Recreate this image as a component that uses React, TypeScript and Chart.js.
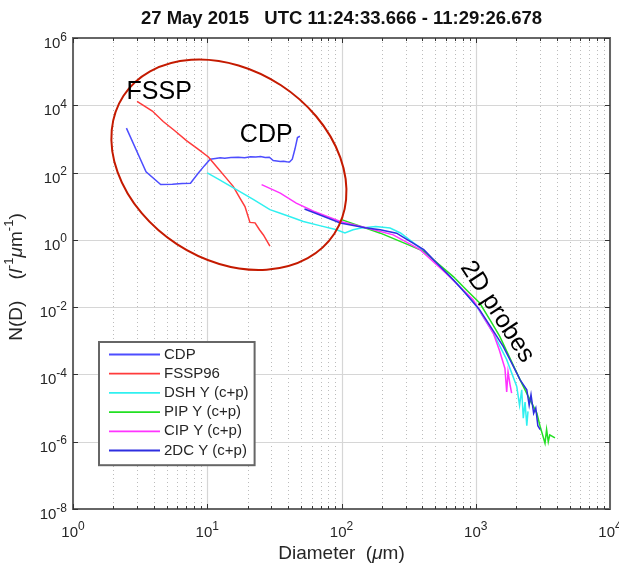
import React, { useEffect, useRef } from 'react';
import { Chart, registerables } from 'chart.js';

Chart.register(...registerables);

const FONT = '"Liberation Sans", Arial, Helvetica, sans-serif';

const titleText = '27 May 2015   UTC 11:24:33.666 - 11:29:26.678';

const xTickValues = [1, 10, 100, 1000, 10000];
const xTickExps = ['0', '1', '2', '3', '4'];
const yTickValues = [1e-8, 1e-6, 1e-4, 1e-2, 1, 1e2, 1e4, 1e6];
const yTickExps = ['-8', '-6', '-4', '-2', '0', '2', '4', '6'];

const seriesNames = ['CDP', 'FSSP96', 'DSH Y (c+p)', 'PIP Y (c+p)', 'CIP Y (c+p)', '2DC Y (c+p)'];
const seriesColors = ['#4d4dff', '#ff3b3b', '#30f0f0', '#22e022', '#ff33ff', '#2e2ee0'];

const cdpD = [2.5, 3.5, 4.5, 5.5, 6.5, 7.5, 8.5, 9.5, 10.5, 11.5, 12.5, 13.5, 15, 17, 19, 21, 23, 25, 27, 29, 31, 33, 35, 37, 39, 41, 43, 45, 47, 49];
const cdpN = [2100, 105, 44, 45, 47, 48, 92, 158, 250, 262, 275, 268, 282, 285, 275, 295, 288, 300, 282, 286, 228, 222, 214, 218, 210, 205, 250, 500, 1100, 1200];

const fsspD = [3.0, 3.9, 4.7, 5.7, 7.0, 8.4, 10.2, 12.0, 13.7, 15.6, 17.3, 19.1, 20.8, 22.7, 24.5, 26.2, 29.3];
const fsspN = [13000, 6760, 3300, 1780, 890, 525, 290, 135, 72, 39, 19, 9.8, 3.3, 3.2, 2.0, 1.4, 0.65];

const dshD = [10, 12, 16.5, 22, 29.3, 35, 42, 52, 70, 92, 106, 122, 140, 180, 230, 275, 385, 540, 760, 1015, 1350, 1700, 2020, 2120, 2200, 2260, 2330, 2400, 2450];
const dshN = [98, 65, 31, 16, 7.9, 6.2, 4.8, 3.5, 2.6, 2.0, 1.6, 2.0, 2.24, 2.5, 2.24, 1.6, 0.575, 0.162, 0.0417, 0.0105, 0.0017, 2.75e-4, 4.4e-5, 1.2e-5, 3.5e-5, 5e-6, 1.5e-5, 3e-6, 8e-6];

const pipD = [100, 195, 300, 410, 500, 680, 850, 1070, 1280, 1510, 1800, 2140, 2450, 2850, 3020, 3280, 3370, 3470, 3560, 3890];
const pipN = [4.0, 1.58, 0.77, 0.457, 0.23, 0.081, 0.033, 0.0132, 4.1e-3, 1.35e-3, 3.0e-4, 6.9e-5, 2.3e-5, 7.1e-6, 2.8e-6, 9e-7, 2.3e-6, 1.0e-6, 1.6e-6, 1.3e-6];

const cipD = [25.4, 35, 46, 62, 98, 155, 243, 385, 600, 955, 1350, 1500, 1650, 1700, 1740, 1800, 1850];
const cipN = [44, 24.5, 12.3, 7.1, 3.5, 2.24, 1.41, 0.51, 0.102, 0.0166, 1.7e-3, 5.2e-4, 1.5e-4, 3e-5, 1.2e-4, 5e-5, 2.8e-5];

const dcD = [53, 70, 98, 150, 194, 257, 300, 410, 530, 680, 860, 1070, 1300, 1600, 1850, 2140, 2400, 2500, 2580, 2700, 2800, 2900, 3020];
const dcN = [8.3, 5.4, 3.16, 2.3, 2.0, 1.58, 1.09, 0.51, 0.18, 0.065, 0.023, 8.3e-3, 2.5e-3, 6.8e-4, 2.2e-4, 6.9e-5, 3.5e-5, 1.2e-5, 2.5e-5, 7e-6, 1e-5, 3e-6, 2.3e-6];

const seriesD = [cdpD, fsspD, dshD, pipD, cipD, dcD];
const seriesN = [cdpN, fsspN, dshN, pipN, cipN, dcN];

// annotations (data coordinates)
const ellipseCenter = { x: 14.5, y: 171 };
const annotations = [
  { text: 'FSSP', x: 4.39, y: 25400, angle: 0 },
  { text: 'CDP', x: 27.5, y: 1333, angle: 0 },
  { text: '2D probes', x: 1443, y: 0.0073, angle: 57 },
];

type Part = { t: string; it?: boolean; sup?: boolean };

function drawRich(ctx: CanvasRenderingContext2D, parts: Part[], x: number, y: number, size: number) {
  const fontOf = (p: Part) => `${p.it ? 'italic ' : ''}${p.sup ? Math.round(size * 0.7) : size}px ${FONT}`;
  let total = 0;
  const widths = parts.map((p) => {
    ctx.font = fontOf(p);
    const w = ctx.measureText(p.t).width;
    total += w;
    return w;
  });
  let cx = x - total / 2;
  ctx.textAlign = 'left';
  ctx.textBaseline = 'alphabetic';
  parts.forEach((p, i) => {
    ctx.font = fontOf(p);
    ctx.fillText(p.t, cx, p.sup ? y - size * 0.45 : y);
    cx += widths[i];
  });
}

// "10" with superscript exponent; align: 'center' or 'right'
function drawPow(ctx: CanvasRenderingContext2D, exp: string, x: number, baseY: number, align: 'center' | 'right') {
  const baseFont = `15px ${FONT}`;
  const supFont = `12px ${FONT}`;
  ctx.font = baseFont;
  const wb = ctx.measureText('10').width;
  ctx.font = supFont;
  const ws = ctx.measureText(exp).width;
  const total = wb + ws;
  const x0 = align === 'center' ? x - total / 2 : x - total;
  ctx.textAlign = 'left';
  ctx.textBaseline = 'alphabetic';
  ctx.font = baseFont;
  ctx.fillText('10', x0, baseY);
  ctx.font = supFont;
  ctx.fillText(exp, x0 + wb, baseY - 7.5);
}

const decorPlugin = {
  id: 'matlabDecor',
  beforeDatasetsDraw(chart: any) {
    const { ctx, chartArea } = chart;
    const { left, right, top, bottom } = chartArea;
    const xs = chart.scales.x;
    const ys = chart.scales.y;
    ctx.save();
    // minor vertical dotted grid
    ctx.strokeStyle = '#bcbcbc';
    ctx.lineWidth = 1;
    ctx.setLineDash([1, 3]);
    for (let e = 0; e < 4; e++) {
      for (let m = 2; m <= 9; m++) {
        const px = Math.round(xs.getPixelForValue(m * Math.pow(10, e))) + 0.5;
        ctx.beginPath();
        ctx.moveTo(px, top);
        ctx.lineTo(px, bottom);
        ctx.stroke();
      }
    }
    ctx.setLineDash([]);
    ctx.strokeStyle = '#d6d6d6';
    ctx.lineWidth = 1.2;
    xTickValues.forEach((v) => {
      const px = Math.round(xs.getPixelForValue(v)) + 0.5;
      ctx.beginPath();
      ctx.moveTo(px, top);
      ctx.lineTo(px, bottom);
      ctx.stroke();
    });
    yTickValues.forEach((v) => {
      const py = Math.round(ys.getPixelForValue(v)) + 0.5;
      ctx.beginPath();
      ctx.moveTo(left, py);
      ctx.lineTo(right, py);
      ctx.stroke();
    });
    ctx.restore();
  },
  afterDatasetsDraw(chart: any) {
    const { ctx, chartArea } = chart;
    const { left, right, top, bottom } = chartArea;
    const xs = chart.scales.x;
    const ys = chart.scales.y;
    ctx.save();

    // ellipse annotation
    const ecx = xs.getPixelForValue(ellipseCenter.x);
    const ecy = ys.getPixelForValue(ellipseCenter.y);
    ctx.strokeStyle = '#c41a00';
    ctx.lineWidth = 2;
    ctx.beginPath();
    ctx.ellipse(ecx, ecy, 126, 95, 0.58, 0, Math.PI * 2);
    ctx.stroke();

    // text annotations
    ctx.fillStyle = '#000';
    ctx.font = `25px ${FONT}`;
    ctx.textAlign = 'center';
    ctx.textBaseline = 'middle';
    annotations.forEach((a) => {
      const px = xs.getPixelForValue(a.x);
      const py = ys.getPixelForValue(a.y);
      ctx.save();
      ctx.translate(px, py);
      ctx.rotate((a.angle * Math.PI) / 180);
      ctx.fillText(a.text, 0, 0);
      ctx.restore();
    });

    // axes box
    ctx.strokeStyle = '#666';
    ctx.lineWidth = 2;
    ctx.strokeRect(left, top, right - left, bottom - top);

    // ticks
    ctx.strokeStyle = '#333';
    ctx.lineWidth = 1;
    for (let e = 0; e < 4; e++) {
      for (let m = 1; m <= 9; m++) {
        const v = m * Math.pow(10, e);
        const px = Math.round(xs.getPixelForValue(v)) + 0.5;
        const len = m === 1 ? 5 : 3;
        ctx.beginPath();
        ctx.moveTo(px, bottom);
        ctx.lineTo(px, bottom - len);
        ctx.moveTo(px, top);
        ctx.lineTo(px, top + len);
        ctx.stroke();
      }
    }
    yTickValues.forEach((v) => {
      const py = Math.round(ys.getPixelForValue(v)) + 0.5;
      ctx.beginPath();
      ctx.moveTo(left, py);
      ctx.lineTo(left + 5, py);
      ctx.moveTo(right, py);
      ctx.lineTo(right - 5, py);
      ctx.stroke();
    });

    // tick labels
    ctx.fillStyle = '#262626';
    xTickValues.forEach((v, i) => {
      drawPow(ctx, xTickExps[i], xs.getPixelForValue(v), bottom + 28, 'center');
    });
    yTickValues.forEach((v, i) => {
      drawPow(ctx, yTickExps[i], left - 6, ys.getPixelForValue(v) + 10, 'right');
    });

    // legend
    const ds = chart.data.datasets;
    const rowH = 19.2;
    const boxL = left + 26;
    const boxT = bottom - 167;
    ctx.font = `15px ${FONT}`;
    let maxW = 0;
    ds.forEach((d: any) => {
      maxW = Math.max(maxW, ctx.measureText(d.label).width);
    });
    const boxW = 10 + 51 + 4 + maxW + 6;
    const boxH = rowH * ds.length + 8;
    ctx.fillStyle = '#fff';
    ctx.fillRect(boxL, boxT, boxW, boxH);
    ctx.strokeStyle = '#666';
    ctx.lineWidth = 2;
    ctx.strokeRect(boxL, boxT, boxW, boxH);
    ds.forEach((d: any, i: number) => {
      const cy = boxT + 12.5 + i * rowH;
      ctx.strokeStyle = d.borderColor;
      ctx.lineWidth = 1.8;
      ctx.beginPath();
      ctx.moveTo(boxL + 10, cy);
      ctx.lineTo(boxL + 61, cy);
      ctx.stroke();
      ctx.fillStyle = '#262626';
      ctx.font = `15px ${FONT}`;
      ctx.textAlign = 'left';
      ctx.textBaseline = 'middle';
      ctx.fillText(d.label, boxL + 65, cy);
    });

    // title
    ctx.fillStyle = '#111';
    ctx.font = `bold 18.5px ${FONT}`;
    ctx.textAlign = 'center';
    ctx.textBaseline = 'middle';
    ctx.fillText(titleText, (left + right) / 2, 19);

    // x axis title
    ctx.fillStyle = '#262626';
    drawRich(ctx, [{ t: 'Diameter  (' }, { t: 'μ', it: true }, { t: 'm)' }], (left + right) / 2, 559, 19);

    // y axis title
    ctx.save();
    ctx.translate(22, 277);
    ctx.rotate(-Math.PI / 2);
    drawRich(
      ctx,
      [
        { t: 'N(D)    (' },
        { t: 'l', it: true },
        { t: '-1', sup: true },
        { t: 'μ', it: true },
        { t: 'm' },
        { t: '-1', sup: true },
        { t: ')' },
      ],
      0,
      0,
      19
    );
    ctx.restore();

    ctx.restore();
  },
};

export default function App() {
  const canvasRef = useRef<HTMLCanvasElement | null>(null);

  useEffect(() => {
    const canvas = canvasRef.current;
    if (!canvas) return;
    const datasets = seriesNames.map((name, i) => ({
      label: name,
      data: seriesD[i].map((d, j) => ({ x: d, y: seriesN[i][j] })),
      borderColor: seriesColors[i],
      backgroundColor: seriesColors[i],
      borderWidth: 1.5,
      pointRadius: 0,
      showLine: true,
      tension: 0,
      order: seriesNames.length - 1 - i,
    }));
    const chart = new Chart(canvas, {
      type: 'scatter',
      data: { datasets },
      options: {
        animation: false,
        responsive: false,
        devicePixelRatio: 1,
        layout: { padding: { left: 0, right: 9, top: 38, bottom: 0 } },
        plugins: {
          legend: { display: false },
          tooltip: { enabled: false },
          title: { display: false },
        },
        scales: {
          x: {
            type: 'logarithmic',
            min: 1,
            max: 10000,
            grid: { display: false },
            border: { display: false },
            afterBuildTicks: (s: any) => {
              s.ticks = xTickValues.map((v) => ({ value: v, major: true }));
            },
            afterFit: (s: any) => {
              s.height = 54;
              s.paddingLeft = 0;
              s.paddingRight = 0;
            },
            ticks: { display: false },
          },
          y: {
            type: 'logarithmic',
            min: 1e-8,
            max: 1e6,
            grid: { display: false },
            border: { display: false },
            afterBuildTicks: (s: any) => {
              s.ticks = yTickValues.map((v) => ({ value: v, major: true }));
            },
            afterFit: (s: any) => {
              s.width = 73;
              s.paddingTop = 0;
              s.paddingBottom = 0;
            },
            ticks: { display: false },
          },
        },
      },
      plugins: [decorPlugin],
    } as any);
    return () => chart.destroy();
  }, []);

  return (
    <div style={{ position: 'fixed', left: 0, top: 0, width: 619, height: 563, background: '#fff' }}>
      <canvas ref={canvasRef} width={619} height={563} style={{ display: 'block' }} />
    </div>
  );
}
